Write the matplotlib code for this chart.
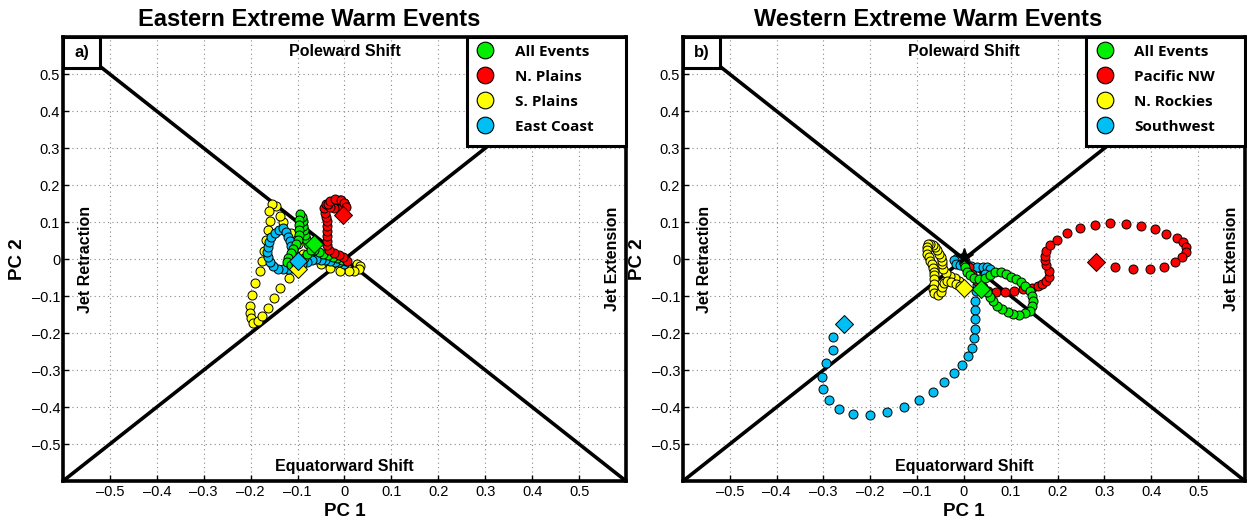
import matplotlib
matplotlib.use("Agg")
import matplotlib.pyplot as plt
from matplotlib.lines import Line2D
from matplotlib.patches import Rectangle

plt.rcParams['font.family'] = ['Liberation Sans', 'DejaVu Sans']

# ---------------- data: Eastern panel ----------------
east_all_x = [0.003, -0.006, -0.015, -0.025, -0.035, -0.045, -0.055, -0.064, -0.072, -0.078, -0.082,
              -0.085, -0.087, -0.088, -0.089, -0.091, -0.094, -0.097, -0.097, -0.096, -0.097, -0.100,
              -0.104, -0.109, -0.115, -0.120, -0.122, -0.114, -0.104, -0.095, -0.087, -0.079, -0.072]
east_all_y = [-0.006, -0.002, 0.003, 0.007, 0.011, 0.015, 0.020, 0.025, 0.032, 0.042, 0.054,
              0.066, 0.078, 0.090, 0.102, 0.113, 0.122, 0.105, 0.092, 0.079, 0.066, 0.053,
              0.040, 0.028, 0.016, 0.004, -0.008, -0.016, -0.014, -0.006, 0.004, 0.015, 0.026]
east_all_end = (-0.064, 0.040)

east_np_x = [0.006, -0.003, -0.012, -0.023, -0.033, -0.037, -0.038, -0.038, -0.038, -0.038, -0.038,
             -0.040, -0.041, -0.044, -0.040, -0.030, -0.020, -0.010, -0.002, 0.002, -0.003, -0.012,
             -0.022, -0.030, -0.035, -0.030, -0.020, -0.008, 0.000, 0.003]
east_np_y = [-0.004, 0.005, 0.011, 0.017, 0.026, 0.037, 0.049, 0.062, 0.076, 0.090, 0.103,
             0.115, 0.125, 0.137, 0.148, 0.155, 0.159, 0.159, 0.153, 0.145, 0.138, 0.135,
             0.137, 0.142, 0.150, 0.157, 0.162, 0.160, 0.152, 0.140]
east_np_end = (-0.004, 0.120)

east_sp_x = [0.027, 0.034, 0.031, 0.020, 0.009, -0.009, -0.030, -0.051, -0.073, -0.088, -0.100,
             -0.115, -0.130, -0.137, -0.145, -0.155, -0.160, -0.158, -0.163, -0.167, -0.172, -0.176,
             -0.181, -0.190, -0.197, -0.201, -0.202, -0.199, -0.194, -0.185, -0.176, -0.164, -0.151,
             -0.137, -0.119]
east_sp_y = [-0.013, -0.019, -0.028, -0.032, -0.032, -0.031, -0.025, -0.014, 0.008, 0.014, 0.040,
             0.070, 0.100, 0.116, 0.143, 0.150, 0.130, 0.103, 0.078, 0.053, 0.022, -0.005,
             -0.032, -0.064, -0.096, -0.127, -0.145, -0.159, -0.172, -0.168, -0.154, -0.132, -0.105,
             -0.077, -0.050]
east_sp_end = (-0.100, -0.028)

east_ec_x = [0.000, -0.011, -0.021, -0.031, -0.041, -0.050, -0.060, -0.070, -0.080, -0.090, -0.100,
             -0.110, -0.120, -0.131, -0.142, -0.152, -0.159, -0.163, -0.165, -0.164, -0.161, -0.156,
             -0.149, -0.140, -0.130, -0.124, -0.120, -0.117, -0.113, -0.110, -0.106, -0.103]
east_ec_y = [-0.012, -0.009, -0.007, -0.005, -0.003, -0.002, 0.000, -0.003, -0.008, -0.014, -0.019,
             -0.023, -0.026, -0.028, -0.026, -0.019, -0.008, 0.005, 0.019, 0.033, 0.047, 0.060,
             0.071, 0.079, 0.084, 0.072, 0.060, 0.048, 0.036, 0.024, 0.012, 0.002]
east_ec_end = (-0.100, -0.005)

# ---------------- data: Western panel ----------------
west_all_x = [0.000, 0.002, 0.006, 0.013, 0.022, 0.033, 0.044, 0.055, 0.066, 0.078, 0.089, 0.100,
              0.110, 0.121, 0.131, 0.141, 0.146, 0.148, 0.146, 0.140, 0.130, 0.118, 0.105, 0.093,
              0.081, 0.070, 0.061, 0.055, 0.050]
west_all_y = [-0.010, -0.022, -0.034, -0.044, -0.051, -0.055, -0.050, -0.042, -0.036, -0.035, -0.041, -0.047,
              -0.053, -0.062, -0.072, -0.086, -0.100, -0.114, -0.128, -0.139, -0.147, -0.151, -0.149, -0.144,
              -0.136, -0.126, -0.114, -0.102, -0.090]
west_all_end = (0.036, -0.080)

west_pnw_x = [0.003, 0.011, 0.018, 0.028, 0.040, 0.052, 0.068, 0.087, 0.106, 0.125, 0.145, 0.157,
              0.166, 0.176, 0.182, 0.181, 0.176, 0.173, 0.172, 0.175, 0.184, 0.198, 0.219, 0.247,
              0.279, 0.312, 0.345, 0.379, 0.408, 0.432, 0.454, 0.468, 0.474, 0.475, 0.466, 0.451,
              0.427, 0.397, 0.361, 0.322]
west_pnw_y = [-0.005, -0.022, -0.040, -0.060, -0.075, -0.085, -0.090, -0.090, -0.086, -0.082, -0.077, -0.072,
              -0.068, -0.059, -0.047, -0.032, -0.016, -0.002, 0.009, 0.023, 0.038, 0.052, 0.071, 0.084,
              0.093, 0.097, 0.095, 0.090, 0.081, 0.069, 0.058, 0.045, 0.032, 0.019, 0.005, -0.008,
              -0.020, -0.026, -0.027, -0.022]
west_pnw_end = (0.281, -0.009)

west_nr_x = [-0.010, -0.020, -0.030, -0.039, -0.044, -0.046, -0.048, -0.050, -0.053, -0.057, -0.062,
             -0.067, -0.072, -0.077, -0.080, -0.080, -0.078, -0.075, -0.072, -0.069, -0.066, -0.064,
             -0.063, -0.063, -0.065, -0.066, -0.063, -0.055, -0.049, -0.046, -0.043, -0.036, -0.027,
             -0.018, -0.009]
west_nr_y = [-0.060, -0.050, -0.046, -0.038, -0.026, -0.013, -0.004, 0.006, 0.015, 0.024, 0.032,
             0.038, 0.042, 0.041, 0.033, 0.024, 0.015, 0.006, -0.004, -0.014, -0.024, -0.034,
             -0.044, -0.054, -0.067, -0.080, -0.092, -0.097, -0.088, -0.076, -0.064, -0.058, -0.062,
             -0.068, -0.073]
west_nr_end = (0.000, -0.079)

west_sw_x = [-0.005, -0.015, -0.022, -0.018, -0.008, 0.003, 0.015, 0.028, 0.040, 0.050, 0.055,
             0.045, 0.035, 0.028, 0.025, 0.024, 0.024, 0.024, 0.024, 0.022, 0.018, 0.009, -0.004,
             -0.021, -0.042, -0.066, -0.095, -0.128, -0.164, -0.201, -0.236, -0.267, -0.289, -0.302,
             -0.304, -0.295, -0.279, -0.279]
west_sw_y = [0.002, 0.003, -0.003, -0.013, -0.015, -0.016, -0.018, -0.020, -0.020, -0.021, -0.028,
             -0.040, -0.055, -0.070, -0.087, -0.112, -0.137, -0.162, -0.189, -0.214, -0.240, -0.263, -0.286,
             -0.309, -0.333, -0.358, -0.381, -0.401, -0.414, -0.422, -0.419, -0.405, -0.382, -0.352,
             -0.319, -0.282, -0.247, -0.210]
west_sw_end = (-0.256, -0.175)

east_labels = ['All Events', 'N. Plains', 'S. Plains', 'East Coast']
west_labels = ['All Events', 'Pacific NW', 'N. Rockies', 'Southwest']

TICKS = [-0.5, -0.4, -0.3, -0.2, -0.1, 0, 0.1, 0.2, 0.3, 0.4, 0.5]
TICKLABELS = ['\u20130.5', '\u20130.4', '\u20130.3', '\u20130.2', '\u20130.1', '0',
              '0.1', '0.2', '0.3', '0.4', '0.5']

# ---------------- styling ----------------
C_ALL = '#00ee00'
C_RED = '#ff0000'
C_YEL = '#ffff00'
C_BLU = '#00bff5'

LEG_FONT = ['Open Sans', 'DejaVu Sans']

fig = plt.figure(figsize=(12.47, 5.24), dpi=100)
ax1 = fig.add_axes([0.0505, 0.082, 0.4515, 0.847])
ax2 = fig.add_axes([0.5477, 0.082, 0.4507, 0.847])


def style(ax, title, panel, series, labels, star=False):
    ax.set_xlim(-0.6, 0.6)
    ax.set_ylim(-0.6, 0.6)
    ax.set_xticks(TICKS)
    ax.set_yticks(TICKS)
    ax.set_xticklabels(TICKLABELS, fontsize=10.5)
    ax.set_yticklabels(TICKLABELS, fontsize=10.5)
    ax.tick_params(direction='in', length=4, width=1, top=False, right=False, pad=3)
    ax.tick_params(axis='y', pad=2)
    ax.grid(True, linestyle=(0, (1, 3)), color='#888888', linewidth=0.8)
    ax.set_axisbelow(True)
    for s in ax.spines.values():
        s.set_linewidth(2.6)
    # diagonals
    ax.plot([-0.6, 0.6], [-0.6, 0.6], color='k', lw=2.6, zorder=2)
    ax.plot([-0.6, 0.6], [0.6, -0.6], color='k', lw=2.6, zorder=2)

    for (xs, ys, end, c) in series:
        ax.plot(xs, ys, linestyle='none', marker='o', ms=6.5, mfc=c, mec='k', mew=0.7, zorder=3)
    for (xs, ys, end, c) in series:
        ax.plot([end[0]], [end[1]], linestyle='none', marker='D', ms=9.5, mfc=c, mec='k', mew=0.7, zorder=4)
    if star:
        ax.plot([0.0], [0.006], marker='*', ms=13, color='k', zorder=5)

    t = ax.set_title(title, fontsize=17, fontweight='bold', pad=8)
    t.set_x(0.437)
    ax.set_xlabel('PC 1', fontsize=13.5, fontweight='bold', labelpad=3)
    ax.set_ylabel('PC 2', fontsize=13.5, fontweight='bold', labelpad=4)

    ax.text(0, 0.56, 'Poleward Shift', ha='center', va='center', fontsize=11.5, fontweight='bold', zorder=6)
    ax.text(0, -0.56, 'Equatorward Shift', ha='center', va='center', fontsize=11.5, fontweight='bold', zorder=6)
    ax.text(-0.553, 0.0, 'Jet Retraction', ha='center', va='center', rotation=90, fontsize=11.5,
            fontweight='bold', zorder=6)
    ax.text(0.572, 0.0, 'Jet Extension', ha='center', va='center', rotation=90, fontsize=11.5,
            fontweight='bold', zorder=6)

    ax.add_patch(Rectangle((-0.6, 0.518), 0.079, 0.082, facecolor='white', edgecolor='k',
                           lw=2.2, zorder=7, clip_on=False))
    ax.text(-0.5605, 0.559, panel, ha='center', va='center', fontsize=12, fontweight='bold', zorder=8)

    # legend: frame drawn as a box reaching the axes' top-right corner
    x0, y0 = 0.7176, 0.7545
    ax.add_patch(Rectangle((x0, y0), 1 - x0, 1 - y0, transform=ax.transAxes, facecolor='white',
                           edgecolor='k', lw=2.2, zorder=9, clip_on=False))
    colors = [C_ALL, C_RED, C_YEL, C_BLU]
    handles = [Line2D([], [], linestyle='none', marker='o', ms=12, mfc=c, mec='k', mew=0.8)
               for c in colors]
    leg = ax.legend(handles, labels, loc='upper left', bbox_to_anchor=(x0, 1.0),
                    borderaxespad=0, frameon=False,
                    prop={'family': LEG_FONT, 'weight': 'bold', 'size': 11},
                    handletextpad=1.25, labelspacing=0.72, borderpad=0.5, handlelength=1.4)
    leg.set_zorder(10)


east_series = [
    (east_sp_x, east_sp_y, east_sp_end, C_YEL),
    (east_ec_x, east_ec_y, east_ec_end, C_BLU),
    (east_all_x, east_all_y, east_all_end, C_ALL),
    (east_np_x, east_np_y, east_np_end, C_RED),
]
west_series = [
    (west_sw_x, west_sw_y, west_sw_end, C_BLU),
    (west_nr_x, west_nr_y, west_nr_end, C_YEL),
    (west_pnw_x, west_pnw_y, west_pnw_end, C_RED),
    (west_all_x, west_all_y, west_all_end, C_ALL),
]

style(ax1, 'Eastern Extreme Warm Events', 'a)', east_series, east_labels, star=False)
style(ax2, 'Western Extreme Warm Events', 'b)', west_series, west_labels, star=True)

fig.savefig('out.png', dpi=100)
